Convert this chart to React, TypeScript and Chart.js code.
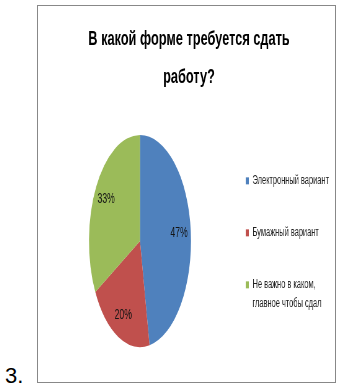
import React, { useEffect, useRef } from 'react';
import { Chart, registerables } from 'chart.js';

Chart.register(...registerables);

// ---- data ----
const TITLE_LINES = ['В какой форме требуется сдать', 'работу?'];
const CATEGORIES: (string | string[])[] = [
  'Электронный вариант',
  'Бумажный вариант',
  ['Не важно в каком,', 'главное чтобы сдал'],
];
const VALUES = [47, 20, 33];
const COLORS = ['#4F81BD', '#C0504D', '#9BBB59'];
const SLIDE_NUMBER = '3.';

// ---- styling ----
const FONT = "'Liberation Sans', Arial, sans-serif";
const SQUEEZE = 0.62; // whole chart drawn horizontally condensed
const PIE_X_SCALE = 0.776; // pie plotted as an ellipse
const PIE_SHIFT = 12; // horizontal shift of the ellipse inside the plot area
const PIE_RADIUS = 106;
const LABEL_RADIUS = 0.77;
const CANVAS_W = 479;
const CANVAS_H = 376;

const ellipsePlugin = {
  id: 'ellipsePie',
  beforeDatasetsDraw(chart: any) {
    const ctx = chart.ctx;
    const meta = chart.getDatasetMeta(0);
    const cx = meta.data.length ? meta.data[0].x : 0;
    ctx.save();
    ctx.translate(cx + PIE_SHIFT, 0);
    ctx.scale(PIE_X_SCALE, 1);
    ctx.translate(-cx, 0);
  },
  afterDatasetsDraw(chart: any) {
    const ctx = chart.ctx;
    ctx.restore();
    const meta = chart.getDatasetMeta(0);
    const total = VALUES.reduce((a, b) => a + b, 0);
    ctx.save();
    ctx.font = `14px ${FONT}`;
    ctx.fillStyle = '#141414';
    ctx.textAlign = 'center';
    ctx.textBaseline = 'middle';
    meta.data.forEach((arc: any, i: number) => {
      const { x, y, startAngle, endAngle, outerRadius } = arc.getProps(
        ['x', 'y', 'startAngle', 'endAngle', 'outerRadius'],
        true
      );
      const mid = (startAngle + endAngle) / 2;
      const r = outerRadius * LABEL_RADIUS;
      const px = x + PIE_SHIFT + Math.cos(mid) * r * PIE_X_SCALE;
      const py = y + Math.sin(mid) * r;
      ctx.fillText(Math.round((VALUES[i] / total) * 100) + '%', px, py);
    });
    ctx.restore();
  },
};

export default function App() {
  const ref = useRef<HTMLCanvasElement>(null);

  useEffect(() => {
    if (!ref.current) return;
    const chart = new Chart(ref.current, {
      type: 'pie',
      data: {
        labels: CATEGORIES as any,
        datasets: [
          {
            data: VALUES,
            backgroundColor: COLORS,
            borderWidth: 0,
            radius: PIE_RADIUS,
          } as any,
        ],
      },
      options: {
        responsive: false,
        animation: false,
        events: [],
        devicePixelRatio: 1,
        layout: { padding: { left: 10, right: 2, top: 0, bottom: 24 } },
        plugins: {
          title: {
            display: true,
            text: TITLE_LINES,
            color: '#000',
            fullSize: true,
            font: { family: FONT, size: 20.6, weight: 'bold', lineHeight: '38.4px' } as any,
            padding: { top: 13.65, bottom: 27.65 },
          },
          legend: {
            display: true,
            position: 'right',
            align: 'center',
            fullSize: false,
            maxWidth: 182,
            title: {
              display: true,
              text: '',
              font: { size: 6, lineHeight: 1 },
              padding: 2,
            },
            labels: {
              boxWidth: 5,
              boxHeight: 7,
              padding: 40,
              color: '#1f1f1f',
              font: { family: FONT, size: 12, lineHeight: '19.2px' } as any,
            },
          },
          tooltip: { enabled: false },
        },
      },
      plugins: [ellipsePlugin],
    });
    return () => chart.destroy();
  }, []);

  return (
    <div style={{ position: 'absolute', left: 0, top: 0, width: 338, height: 386, background: '#fff' }}>
      <div
        style={{
          position: 'absolute',
          left: 37,
          top: 5,
          width: 297,
          height: 376,
          border: '1px solid #888',
          overflow: 'hidden',
          background: '#fff',
        }}
      >
        <canvas
          ref={ref}
          width={CANVAS_W}
          height={CANVAS_H}
          style={{
            display: 'block',
            width: CANVAS_W,
            height: CANVAS_H,
            transform: `scaleX(${SQUEEZE})`,
            transformOrigin: '0 0',
          }}
        />
      </div>
      <div
        style={{
          position: 'absolute',
          left: 5,
          top: 364.7,
          fontFamily: FONT,
          fontSize: 22,
          lineHeight: '22px',
          color: '#000',
        }}
      >
        {SLIDE_NUMBER}
      </div>
    </div>
  );
}
